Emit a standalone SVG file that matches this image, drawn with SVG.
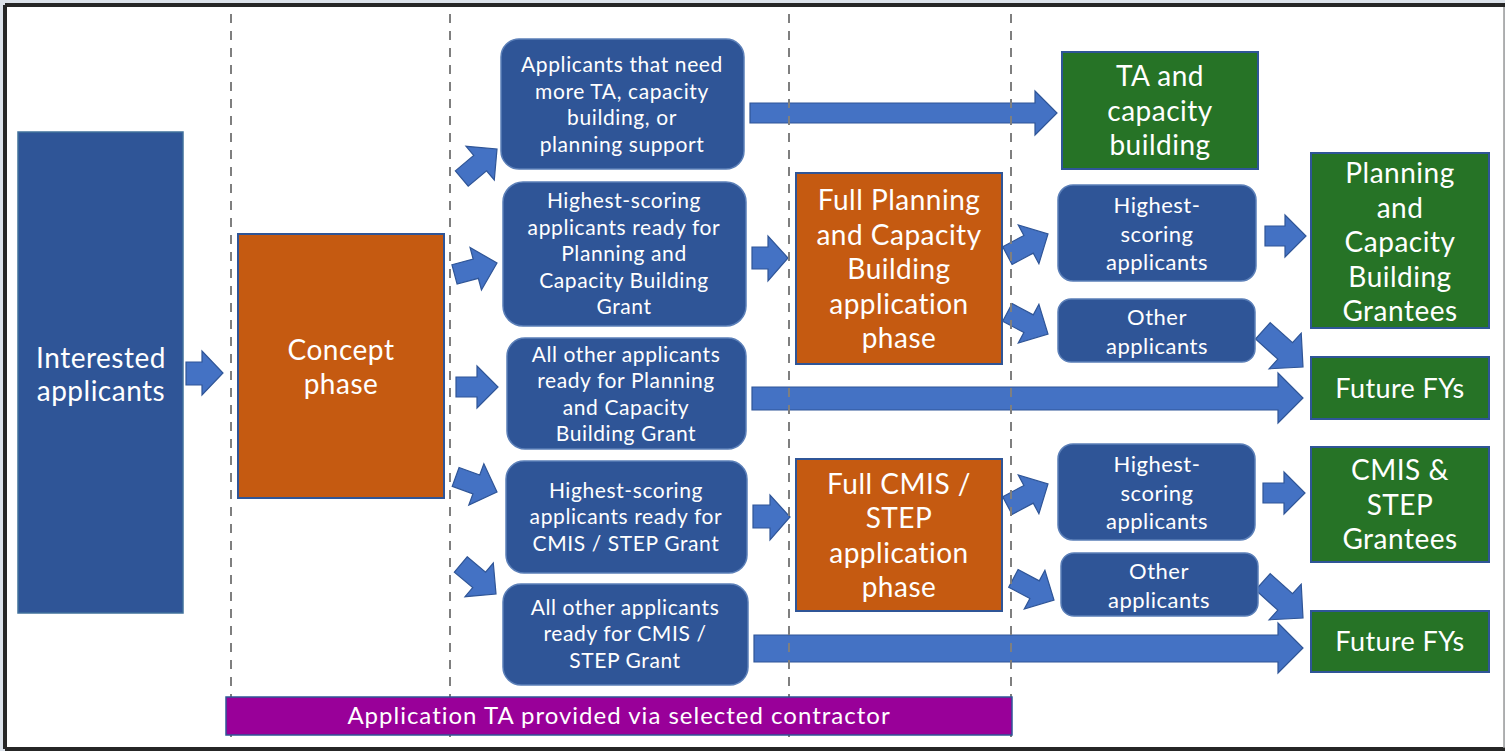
<svg xmlns="http://www.w3.org/2000/svg" width="1505" height="751" viewBox="0 0 1505 751">
<style>
.t{font-family:Lato,"Open Sans","Liberation Sans",sans-serif;fill:#fff;text-anchor:middle}
.f21{font-size:21px;letter-spacing:0.6px}.f22{font-size:22px;letter-spacing:0.5px}.f28{font-size:28px;letter-spacing:0.5px}.f26{font-size:27px;letter-spacing:0.4px}.f23{font-size:24px;letter-spacing:1px}
.bb{fill:#2F5597;stroke:#5B7FB8;stroke-width:1.5}
.ob{fill:#C55A11;stroke:#2F5597;stroke-width:2}
.gb{fill:#267326;stroke:#2F5597;stroke-width:2}
.arr{fill:#4472C4;stroke:#2F5597;stroke-width:1.2}
.dash{stroke:#7F7F7F;stroke-width:2;stroke-dasharray:9 8;fill:none}
</style>
<rect x="0" y="0" width="1505" height="751" fill="#DCE2EA"/>
<rect x="6" y="5" width="1498" height="744" fill="#fff"/>
<path d="M5,5 H1505 M5,5 V749 M5,749 H1505" stroke="#262626" stroke-width="4" fill="none"/>
<line x1="1504" y1="7" x2="1504" y2="748" stroke="#9A9A9A" stroke-width="1.5"/>

<g id="connectors">
<path class="arr" d="M186,362 H202 V351 L223,373 L202,395 V385 H186 Z"/>
<path class="arr" transform="translate(497,149) rotate(-40)" d="M-46,-10 L-22,-10 L-22,-22 L0,0 L-22,22 L-22,10 L-46,10 Z"/>
<path class="arr" transform="translate(497,263) rotate(-15)" d="M-44,-10 L-22,-10 L-22,-22 L0,0 L-22,22 L-22,10 L-44,10 Z"/>
<path class="arr" transform="translate(498,387)" d="M-42,-10 L-21,-10 L-21,-21 L0,0 L-21,21 L-21,10 L-42,10 Z"/>
<path class="arr" transform="translate(497,492) rotate(20)" d="M-44,-10 L-22,-10 L-22,-22 L0,0 L-22,22 L-22,10 L-44,10 Z"/>
<path class="arr" transform="translate(496,594) rotate(40)" d="M-46,-10 L-22,-10 L-22,-22 L0,0 L-22,22 L-22,10 L-46,10 Z"/>
<path class="arr" d="M750,103 H1035 V91 L1057,113 L1035,135 V123 H750 Z"/>
<path class="arr" d="M752,247 H768 V236 L788,258 L768,281 V269 H752 Z"/>
<path class="arr" d="M752,387 H1278 V373 L1303,398 L1278,423 V410 H752 Z"/>
<path class="arr" d="M753,505 H770 V495 L790,517 L770,540 V528 H753 Z"/>
<path class="arr" d="M754,635 H1278 V623 L1303,648 L1278,673 V662 H754 Z"/>
<path class="arr" transform="translate(1048,234) rotate(-28)" d="M-46,-10 L-22,-10 L-22,-22 L0,0 L-22,22 L-22,10 L-46,10 Z"/>
<path class="arr" transform="translate(1048,334) rotate(28)" d="M-46,-10 L-22,-10 L-22,-22 L0,0 L-22,22 L-22,10 L-46,10 Z"/>
<path class="arr" transform="translate(1048,484) rotate(-28)" d="M-46,-10 L-22,-10 L-22,-22 L0,0 L-22,22 L-22,10 L-46,10 Z"/>
<path class="arr" transform="translate(1054,600) rotate(28)" d="M-46,-10 L-22,-10 L-22,-22 L0,0 L-22,22 L-22,10 L-46,10 Z"/>
<path class="arr" transform="translate(1306,236)" d="M-41,-10 L-21,-10 L-21,-21 L0,0 L-21,21 L-21,10 L-41,10 Z"/>
<path class="arr" transform="translate(1305,493)" d="M-42,-10 L-21,-10 L-21,-21 L0,0 L-21,21 L-21,10 L-42,10 Z"/>
<path class="arr" transform="translate(1303,367) rotate(42)" d="M-54,-11 L-24,-11 L-24,-24 L0,0 L-24,24 L-24,11 L-54,11 Z"/>
<path class="arr" transform="translate(1303,618) rotate(42)" d="M-54,-11 L-24,-11 L-24,-24 L0,0 L-24,24 L-24,11 L-54,11 Z"/>
</g>

<g id="dividers">
<line class="dash" x1="231" y1="14" x2="231" y2="742"/>
<line class="dash" x1="450" y1="14" x2="450" y2="742"/>
<line class="dash" x1="789" y1="14" x2="789" y2="742"/>
<line class="dash" x1="1011" y1="14" x2="1011" y2="742"/>
</g>

<g id="interested">
<rect class="bb" x="18" y="132" width="165" height="481" style="stroke:#41719C"/>
<text class="t f28" x="101" y="368">Interested</text>
<text class="t f28" x="101" y="401">applicants</text>
</g>

<g id="concept">
<rect class="ob" x="238" y="234" width="206" height="264"/>
<text class="t f28" x="341" y="360">Concept</text>
<text class="t f28" x="341" y="394">phase</text>
</g>

<g id="need-ta">
<rect class="bb" x="501" y="39" width="243" height="130" rx="18"/>
<text class="t f21" x="622" y="72">Applicants that need</text>
<text class="t f21" x="622" y="99">more TA, capacity</text>
<text class="t f21" x="622" y="125">building, or</text>
<text class="t f21" x="622" y="152">planning support</text>
</g>

<g id="high-pcb">
<rect class="bb" x="503" y="182" width="243" height="144" rx="20"/>
<text class="t f21" x="624" y="208">Highest-scoring</text>
<text class="t f21" x="624" y="235">applicants ready for</text>
<text class="t f21" x="624" y="261">Planning and</text>
<text class="t f21" x="624" y="288">Capacity Building</text>
<text class="t f21" x="624" y="314">Grant</text>
</g>

<g id="other-pcb">
<rect class="bb" x="507" y="338" width="239" height="111" rx="18"/>
<text class="t f21" x="626" y="362">All other applicants</text>
<text class="t f21" x="626" y="388">ready for Planning</text>
<text class="t f21" x="626" y="415">and Capacity</text>
<text class="t f21" x="626" y="441">Building Grant</text>
</g>

<g id="high-cmis">
<rect class="bb" x="506" y="461" width="241" height="112" rx="18"/>
<text class="t f21" x="626" y="498">Highest-scoring</text>
<text class="t f21" x="626" y="524">applicants ready for</text>
<text class="t f21" x="626" y="551">CMIS / STEP Grant</text>
</g>

<g id="other-cmis">
<rect class="bb" x="503" y="584" width="245" height="101" rx="18"/>
<text class="t f21" x="625" y="615">All other applicants</text>
<text class="t f21" x="625" y="641">ready for CMIS /</text>
<text class="t f21" x="625" y="668">STEP Grant</text>
</g>

<g id="full-pcb">
<rect class="ob" x="796" y="173" width="206" height="191"/>
<text class="t f28" x="899" y="210">Full Planning</text>
<text class="t f28" x="899" y="245">and Capacity</text>
<text class="t f28" x="899" y="279">Building</text>
<text class="t f28" x="899" y="314">application</text>
<text class="t f28" x="899" y="348">phase</text>
</g>

<g id="full-cmis">
<rect class="ob" x="796" y="459" width="206" height="152"/>
<text class="t f28" x="899" y="494">Full CMIS /</text>
<text class="t f28" x="899" y="528">STEP</text>
<text class="t f28" x="899" y="563">application</text>
<text class="t f28" x="899" y="597">phase</text>
</g>

<g id="high-1">
<rect class="bb" x="1058" y="185" width="198" height="96" rx="15"/>
<text class="t f22" x="1157" y="213">Highest-</text>
<text class="t f22" x="1157" y="242">scoring</text>
<text class="t f22" x="1157" y="270">applicants</text>
</g>

<g id="other-1">
<rect class="bb" x="1058" y="299" width="197" height="63" rx="13"/>
<text class="t f22" x="1157" y="325">Other</text>
<text class="t f22" x="1157" y="354">applicants</text>
</g>

<g id="high-2">
<rect class="bb" x="1058" y="444" width="197" height="96" rx="15"/>
<text class="t f22" x="1157" y="472">Highest-</text>
<text class="t f22" x="1157" y="501">scoring</text>
<text class="t f22" x="1157" y="529">applicants</text>
</g>

<g id="other-2">
<rect class="bb" x="1061" y="553" width="197" height="63" rx="13"/>
<text class="t f22" x="1159" y="579">Other</text>
<text class="t f22" x="1159" y="608">applicants</text>
</g>

<g id="ta-cb">
<rect class="gb" x="1062" y="52" width="196" height="117"/>
<text class="t f28" x="1160" y="86">TA and</text>
<text class="t f28" x="1160" y="121">capacity</text>
<text class="t f28" x="1160" y="155">building</text>
</g>

<g id="pcb-grantees">
<rect class="gb" x="1311" y="153" width="178" height="175"/>
<text class="t f28" x="1400" y="183">Planning</text>
<text class="t f28" x="1400" y="218">and</text>
<text class="t f28" x="1400" y="252">Capacity</text>
<text class="t f28" x="1400" y="287">Building</text>
<text class="t f28" x="1400" y="321">Grantees</text>
</g>

<g id="future-1">
<rect class="gb" x="1311" y="357" width="178" height="62"/>
<text class="t f26" x="1400" y="398">Future FYs</text>
</g>

<g id="cmis-grantees">
<rect class="gb" x="1311" y="447" width="178" height="115"/>
<text class="t f28" x="1400" y="480">CMIS &amp;</text>
<text class="t f28" x="1400" y="515">STEP</text>
<text class="t f28" x="1400" y="549">Grantees</text>
</g>

<g id="future-2">
<rect class="gb" x="1311" y="611" width="178" height="61"/>
<text class="t f26" x="1400" y="651">Future FYs</text>
</g>

<g id="ta-bar">
<rect x="226" y="697" width="786" height="38" fill="#990099" stroke="#2F5597" stroke-width="1.5"/>
<text class="t f23" x="619" y="724">Application TA provided via selected contractor</text>
</g>
</svg>
